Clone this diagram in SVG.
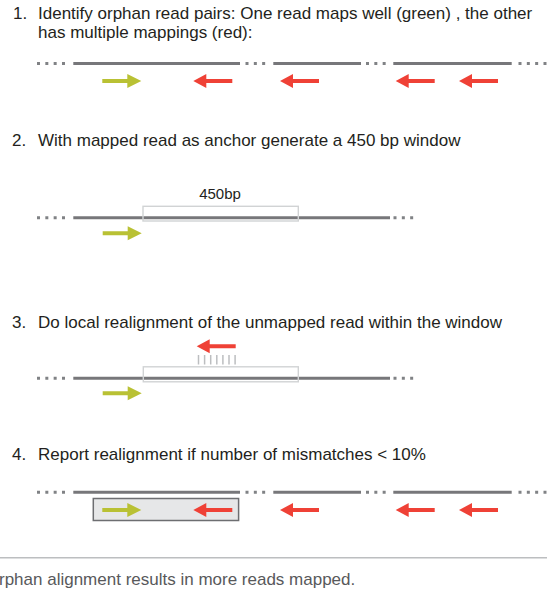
<svg xmlns="http://www.w3.org/2000/svg" xmlns:xlink="http://www.w3.org/1999/xlink" width="547" height="592" viewBox="0 0 547 592">
<style>
text{font-family:"Liberation Sans",Arial,sans-serif;}
.h{font-size:17px;fill:#231f20;}
.lbl{font-size:15px;fill:#231f20;}
.cap{font-size:17px;fill:#58595b;}
.ref{stroke:#77777a;stroke-width:3;fill:none;}
.dots{stroke:#808285;stroke-width:3;stroke-dasharray:3 5.33;fill:none;}
.win{fill:none;stroke:#d1d3d4;stroke-width:1.4;}
.tick{stroke:#bcbec0;stroke-width:1.5;}
</style>
<defs>
<path id="ga" d="M0,-2 H25 V-7 L39,0 L25,7 V2 H0 Z" fill="#b9c134"/>
<path id="ra" d="M0,0 L13,-7 V-2 H39 V2 H13 V7 Z" fill="#ef4136"/>
</defs>

<g id="step1">
<text class="h" x="13" y="19">1.</text>
<text class="h" x="38" y="19">Identify orphan read pairs: One read maps well (green) , the other</text>
<text class="h" x="38" y="38">has multiple mappings (red):</text>
<g id="ref1">
<line class="dots" x1="37" y1="63.5" x2="66" y2="63.5"/>
<line class="ref" x1="73.3" y1="63.5" x2="240" y2="63.5"/>
<line class="dots" x1="245.5" y1="63.5" x2="267" y2="63.5"/>
<line class="ref" x1="273.3" y1="63.5" x2="361" y2="63.5"/>
<line class="dots" x1="366" y1="63.5" x2="387" y2="63.5"/>
<line class="ref" x1="393.3" y1="63.5" x2="511.7" y2="63.5"/>
<line class="dots" x1="518.5" y1="63.5" x2="547" y2="63.5"/>
</g>
<use href="#ga" x="102.3" y="81"/>
<use href="#ra" x="193.3" y="81"/>
<use href="#ra" x="280" y="81"/>
<use href="#ra" x="395.7" y="81"/>
<use href="#ra" x="459" y="81"/>
</g>

<g id="step2">
<text class="h" x="12" y="146">2.</text>
<text class="h" x="38" y="146">With mapped read as anchor generate a 450 bp window</text>
<text class="lbl" x="220" y="198.5" text-anchor="middle">450bp</text>
<line class="dots" x1="37" y1="217.7" x2="66" y2="217.7"/>
<line class="ref" x1="73.3" y1="217.7" x2="390" y2="217.7"/>
<line class="dots" x1="393.5" y1="217.7" x2="414" y2="217.7"/>
<rect id="window2" class="win" x="143" y="206.3" width="155.3" height="14.7"/>
<use href="#ga" x="102.7" y="233.3"/>
</g>

<g id="step3">
<text class="h" x="12" y="328">3.</text>
<text class="h" x="38" y="328">Do local realignment of the unmapped read within the window</text>
<use href="#ra" x="196.7" y="346.3"/>
<g id="ticks">
<line class="tick" x1="198.5" y1="355" x2="198.5" y2="364.5"/>
<line class="tick" x1="204.6" y1="355" x2="204.6" y2="364.5"/>
<line class="tick" x1="210.7" y1="355" x2="210.7" y2="364.5"/>
<line class="tick" x1="216.8" y1="355" x2="216.8" y2="364.5"/>
<line class="tick" x1="222.9" y1="355" x2="222.9" y2="364.5"/>
<line class="tick" x1="229" y1="355" x2="229" y2="364.5"/>
<line class="tick" x1="235.1" y1="355" x2="235.1" y2="364.5"/>
</g>
<line class="dots" x1="37" y1="378.3" x2="66" y2="378.3"/>
<line class="ref" x1="73.3" y1="378.3" x2="390" y2="378.3"/>
<line class="dots" x1="393.5" y1="378.3" x2="414" y2="378.3"/>
<rect id="window3" class="win" x="143.3" y="366.8" width="155" height="15"/>
<use href="#ga" x="102.7" y="393.3"/>
</g>

<g id="step4">
<text class="h" x="12" y="460">4.</text>
<text class="h" x="38" y="460">Report realignment if number of mismatches &lt; 10%</text>
<g id="ref4">
<line class="dots" x1="37" y1="492.3" x2="66" y2="492.3"/>
<line class="ref" x1="73.3" y1="492.3" x2="240" y2="492.3"/>
<line class="dots" x1="245.5" y1="492.3" x2="267" y2="492.3"/>
<line class="ref" x1="273.3" y1="492.3" x2="361" y2="492.3"/>
<line class="dots" x1="366" y1="492.3" x2="387" y2="492.3"/>
<line class="ref" x1="393.3" y1="492.3" x2="511.7" y2="492.3"/>
<line class="dots" x1="518.5" y1="492.3" x2="547" y2="492.3"/>
</g>
<rect id="pair" x="93.3" y="498.5" width="145.3" height="22" fill="#e6e7e8" stroke="#6d6e71" stroke-width="1.5"/>
<use href="#ga" x="102.3" y="510"/>
<use href="#ra" x="193.3" y="510"/>
<use href="#ra" x="280" y="510"/>
<use href="#ra" x="395.7" y="510"/>
<use href="#ra" x="459" y="510"/>
</g>

<g id="caption">
<line x1="0" y1="557.7" x2="547" y2="557.7" stroke="#bcbec0" stroke-width="1.5"/>
<text class="cap" x="-1" y="585">rphan alignment results in more reads mapped.</text>
</g>
</svg>
